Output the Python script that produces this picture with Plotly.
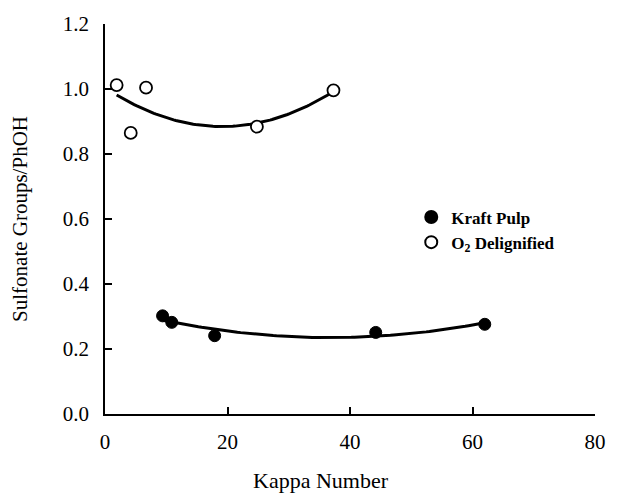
import numpy as np
import plotly.graph_objects as go

# Data
kraft_x = [9.4, 10.9, 17.9, 44.2, 62.0]
kraft_y = [0.302, 0.282, 0.241, 0.251, 0.276]
o2_x = [1.9, 4.2, 6.7, 24.8, 37.3]
o2_y = [1.012, 0.865, 1.004, 0.884, 0.996]

x_ticks = [0, 20, 40, 60, 80]
y_ticks = [0.0, 0.2, 0.4, 0.6, 0.8, 1.0, 1.2]
y_tick_text = ["0.0", "0.2", "0.4", "0.6", "0.8", "1.0", "1.2"]

FONT = "Liberation Serif"


def trend(xs, ys):
    c = np.polyfit(xs, ys, 2)
    xx = np.linspace(min(xs), max(xs), 100)
    return xx, np.polyval(c, xx)


fig = go.Figure()

kx, ky = trend(kraft_x, kraft_y)
ox, oy = trend(o2_x, o2_y)

fig.add_trace(go.Scatter(x=kx, y=ky, mode="lines", line=dict(color="black", width=3),
                         showlegend=False, hoverinfo="skip"))
fig.add_trace(go.Scatter(x=ox, y=oy, mode="lines", line=dict(color="black", width=3),
                         showlegend=False, hoverinfo="skip"))

fig.add_trace(go.Scatter(x=kraft_x, y=kraft_y, mode="markers", name="Kraft Pulp",
                         marker=dict(symbol="circle", size=12, color="black",
                                     line=dict(color="black", width=1))))
fig.add_trace(go.Scatter(x=o2_x, y=o2_y, mode="markers", name="O<sub>2</sub> Delignified",
                         marker=dict(symbol="circle", size=12, color="white",
                                     line=dict(color="black", width=1.8))))

fig.add_annotation(text="Kappa Number", xref="paper", yref="paper", x=0.441, y=-0.17,
                   xanchor="center", yanchor="middle", showarrow=False,
                   font=dict(family=FONT, size=22, color="black"))

fig.update_layout(
    width=618, height=493,
    margin=dict(l=105, r=14, t=24, b=79),
    paper_bgcolor="white", plot_bgcolor="white",
    font=dict(family=FONT, size=21, color="black"),
    legend=dict(x=0.625, y=0.55, xanchor="left", yanchor="top",
                bgcolor="rgba(0,0,0,0)", font=dict(family=FONT, size=17, color="black", weight="bold"),
                itemsizing="constant", tracegroupgap=0),
    xaxis=dict(range=[0, 80], tickvals=x_ticks, ticks="inside", ticklen=7, tickwidth=1.5,
               tickcolor="black", showline=True, linecolor="black", linewidth=1.5,
               showgrid=False, zeroline=False, ticklabelstandoff=8,
               tickfont=dict(family=FONT, size=21)),
    yaxis=dict(range=[0, 1.2], tickvals=y_ticks, ticktext=y_tick_text, ticks="inside",
               ticklen=7, tickwidth=1.5, tickcolor="black", showline=True, linecolor="black",
               linewidth=1.5, showgrid=False, zeroline=False, ticklabelstandoff=10,
               tickfont=dict(family=FONT, size=21),
               title=dict(text="Sulfonate Groups/PhOH", standoff=29,
                          font=dict(family=FONT, size=21))),
)

fig.write_html("out.html")
